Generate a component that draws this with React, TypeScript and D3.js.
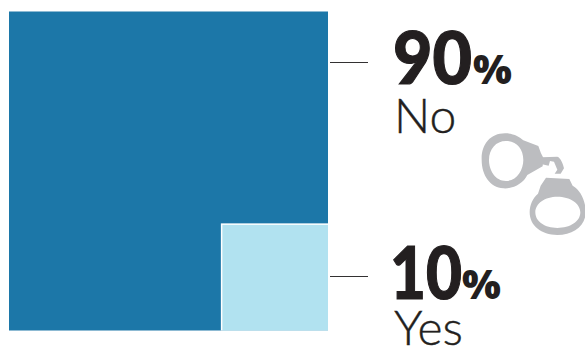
import React from "react";
import * as d3 from "d3";

const answers = ["No", "Yes"];
const shares = [90, 10];
const total = d3.sum(shares);
const colors = ["#1c77a8", "#b1e2f0"];

const W = 585;
const H = 346;
const left = 9;
const bottom = 330.5;
const side = d3.scalePow().exponent(0.48).domain([0, total]).range([0, 319]);

// Handcuff silhouette, drawn in its own coordinate space (3 units per pixel)
const cuffUpper =
  "M35 105C33 60 60 25 105 25C130 25 148 35 160 46L205 63L213 85L220 98L218 124L172 150C160 175 130 192 100 190C60 188 35 150 35 105Z" +
  "M57 105C57 135 75 168 108 168C140 168 160 135 160 105C160 72 140 48 108 48C78 48 57 72 57 105Z";
const cuffLink =
  "M216 97L262 95C272 98 280 118 282 130L272 146L254 146L262 134L252 110L240 108L236 122L216 118Z";
const cuffLower =
  "M228 158L298 162L308 182C332 196 347 226 347 262C347 302 310 330 262 330C214 330 179 302 179 262C179 240 188 220 204 206L212 182Z" +
  "M196 262C196 290 225 309 262 309C300 309 331 290 331 262C331 235 300 215 262 215C225 215 196 235 196 262Z";

const numberFont = "Lato, 'Open Sans', sans-serif";

export default function App() {
  const outer = side(total);
  const inner = side(shares[1]);
  const top = bottom - outer;
  const rows = [
    { lineY: 62.5, numberY: 84, labelY: 133, x: 393, width: 79, pctX: 473 },
    { lineY: 276.5, numberY: 299, labelY: 345, x: 390, width: 72, pctX: 462 },
  ];
  return (
    <svg
      width={W}
      height={H}
      viewBox={`0 0 ${W} ${H}`}
      style={{ position: "absolute", left: 0, top: 0, background: "#fff" }}
    >
      <rect x={left} y={top} width={outer} height={outer} fill={colors[0]} />
      <rect
        x={left + outer - inner - 1.5}
        y={bottom - inner - 1.5}
        width={inner + 1.5}
        height={inner + 1.5}
        fill="#fff"
      />
      <rect
        x={left + outer - inner}
        y={bottom - inner}
        width={inner}
        height={inner}
        fill={colors[1]}
      />
      {answers.map((answer, i) => {
        const r = rows[i];
        return (
          <g key={answer} fill="#231f20">
            <line x1={330} x2={368} y1={r.lineY} y2={r.lineY} stroke="#333132" strokeWidth={1} />
            <text
              x={r.x}
              y={r.numberY}
              fontFamily={numberFont}
              fontWeight={900}
              fontSize={73}
              textLength={r.width}
              lengthAdjust="spacingAndGlyphs"
              stroke="#231f20"
              strokeWidth={1.2}
            >
              {shares[i]}
            </text>
            <text
              x={r.pctX}
              y={r.numberY}
              fontFamily="'Open Sans', sans-serif"
              fontWeight={800}
              fontSize={41}
            >
              %
            </text>
            <text
              x={394}
              y={r.labelY}
              fontFamily="Lato, sans-serif"
              fontWeight={300}
              fontSize={48}
              stroke="#231f20"
              strokeWidth={0.4}
            >
              {answer}
            </text>
          </g>
        );
      })}
      <g transform="translate(470 125) scale(0.3333)" fill="#bcbdc0" fillRule="evenodd">
        <path d={cuffUpper} />
        <path d={cuffLink} />
        <path d={cuffLower} />
      </g>
    </svg>
  );
}
